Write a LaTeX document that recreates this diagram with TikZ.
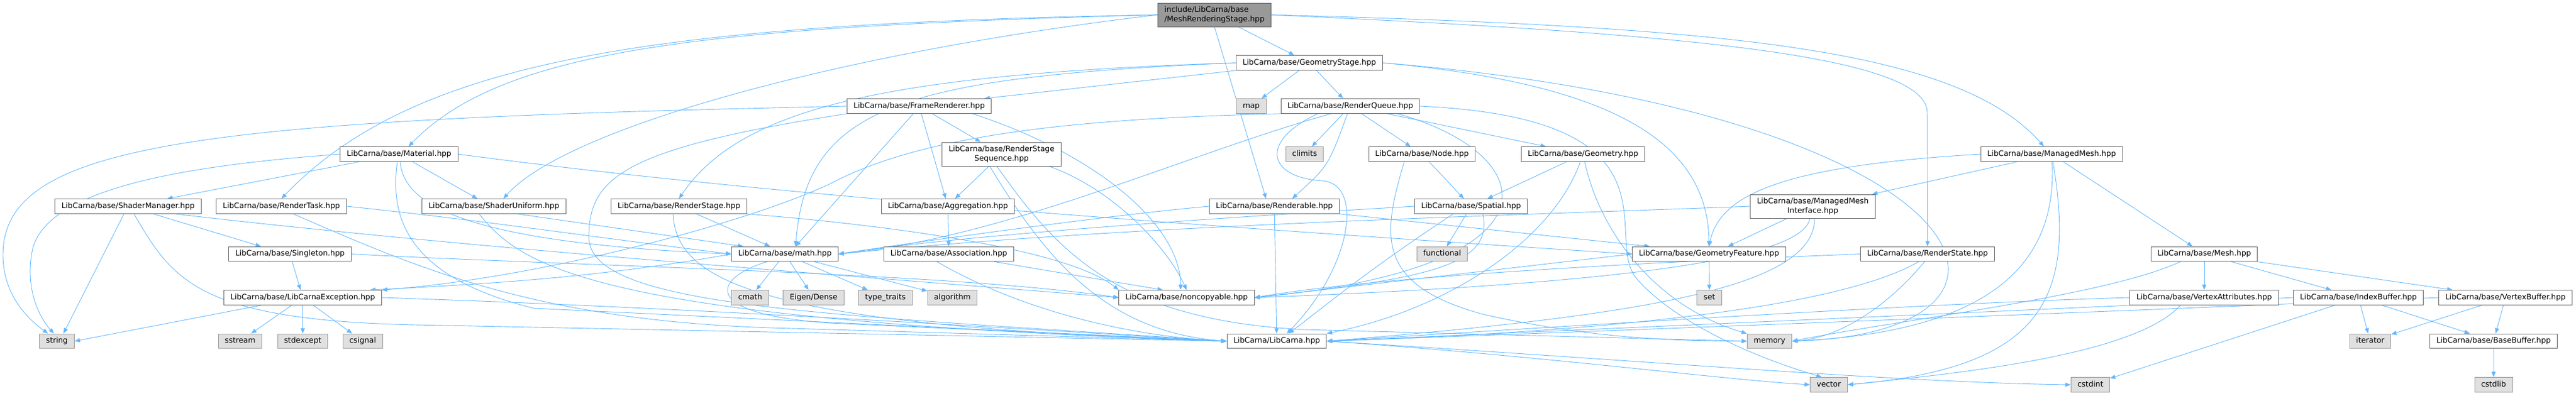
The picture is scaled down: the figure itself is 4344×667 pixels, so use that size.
\documentclass[tikz,border=0pt]{standalone}
\usepackage{fontspec}
\setmainfont{DejaVu Sans}
\usetikzlibrary{arrows.meta}

\definecolor{depblue}{HTML}{63B8FF}
\definecolor{boxline}{HTML}{666666}
\definecolor{sysline}{HTML}{999999}
\definecolor{sysfill}{HTML}{E0E0E0}
\definecolor{mainfill}{HTML}{999999}

\pgfdeclarelayer{background}
\pgfsetlayers{background,main}

\tikzset{
  box/.style={draw=boxline, fill=white, line width=1pt, inner xsep=11pt, inner ysep=6pt,
    font=\fontsize{12.8}{15.5}\selectfont},
  file/.style={box, text height=9.8pt, text depth=3pt},
  filetwo/.style={box, minimum height=40pt, align=center},
  sys/.style={file, draw=sysline, fill=sysfill},
  dep/.style={draw=depblue, line width=0.9pt, -{Triangle[length=9pt,width=7pt]}}
}

\begin{document}
\begin{tikzpicture}[x=1pt,y=-1pt]
\useasboundingbox (0,0) rectangle (4344,667);

% row 1 to 4
\node[filetwo, fill=mainfill, align=left] (top) at (2048,25) {include/LibCarna/base\\/MeshRenderingStage.hpp};
\node[file] (gstage) at (2208,106) {LibCarna/base/GeometryStage.hpp};
\node[file] (frame) at (1550,179) {LibCarna/base/FrameRenderer.hpp};
\node[sys] (stdmap) at (2110,179) {map};
\node[file] (rqueue) at (2277,179) {LibCarna/base/RenderQueue.hpp};
\node[file] (material) at (673,260) {LibCarna/base/Material.hpp};
\node[filetwo] (rsseq) at (1689,260) {LibCarna/base/RenderStage\\Sequence.hpp};
\node[sys] (stdclimits) at (2200,260) {climits};
\node[file] (nodeh) at (2398,260) {LibCarna/base/Node.hpp};
\node[file] (geometry) at (2669.5,260) {LibCarna/base/Geometry.hpp};
\node[file] (mmesh) at (3459.7,260) {LibCarna/base/ManagedMesh.hpp};

% row 5 and 6
\node[file] (shadermgr) at (216,348) {LibCarna/base/ShaderManager.hpp};
\node[file] (rtask) at (474.6,348) {LibCarna/base/RenderTask.hpp};
\node[file] (suniform) at (833,348) {LibCarna/base/ShaderUniform.hpp};
\node[file] (rstage) at (1145,348) {LibCarna/base/RenderStage.hpp};
\node[file] (aggregation) at (1598.5,348) {LibCarna/base/Aggregation.hpp};
\node[file] (renderable) at (2149,348) {LibCarna/base/Renderable.hpp};
\node[file] (spatial) at (2480.6,348) {LibCarna/base/Spatial.hpp};
\node[filetwo] (mmi) at (3057,348) {LibCarna/base/ManagedMesh\\Interface.hpp};
\node[file] (singleton) at (489,428.5) {LibCarna/base/Singleton.hpp};
\node[file] (math) at (1323.6,428.5) {LibCarna/base/math.hpp};
\node[file] (association) at (1600,428.5) {LibCarna/base/Association.hpp};
\node[sys] (stdfunctional) at (2432,428.5) {functional};
\node[file] (gfeature) at (2882,428.5) {LibCarna/base/GeometryFeature.hpp};
\node[file] (rstate) at (3250.5,428.5) {LibCarna/base/RenderState.hpp};
\node[file] (mesh) at (3717,428.5) {LibCarna/base/Mesh.hpp};

% row 7 to 9
\node[file] (exception) at (510.5,502) {LibCarna/base/LibCarnaException.hpp};
\node[sys] (stdcmath) at (1265,502) {cmath};
\node[sys] (eigen) at (1372,502) {Eigen/Dense};
\node[sys] (stdtypetraits) at (1493,502) {type\_traits};
\node[sys] (stdalgorithm) at (1606,502) {algorithm};
\node[file] (noncopyable) at (2001,502) {LibCarna/base/noncopyable.hpp};
\node[sys] (stdset) at (2882.6,502) {set};
\node[file] (vattr) at (3717,502) {LibCarna/base/VertexAttributes.hpp};
\node[file] (ibuffer) at (3977,502) {LibCarna/base/IndexBuffer.hpp};
\node[file] (vbuffer) at (4225,502) {LibCarna/base/VertexBuffer.hpp};
\node[sys] (stdstring) at (96,575.5) {string};
\node[sys] (stdsstream) at (405,575.5) {sstream};
\node[sys] (stdstdexcept) at (510.5,575.5) {stdexcept};
\node[sys] (stdcsignal) at (611.6,575.5) {csignal};
\node[file] (libcarna) at (2153,575.5) {LibCarna/LibCarna.hpp};
\node[sys] (stdmemory) at (2984,575.5) {memory};
\node[sys] (stditerator) at (3997,575.5) {iterator};
\node[file] (basebuffer) at (4205,575.5) {LibCarna/base/BaseBuffer.hpp};
\node[sys] (stdvector) at (3084,649) {vector};
\node[sys] (stdcstdint) at (3525,649) {cstdint};
\node[sys] (stdcstdlib) at (4205,649) {cstdlib};

\begin{pgfonlayer}{background}
% MeshRenderingStage.hpp
\draw[dep] (top) -- (gstage);
\draw[dep] (top.west) .. controls (1100,40) and (700,100) .. (rtask.north);
\draw[dep] (top.west) .. controls (1200,45) and (850,80) .. ([xshift=16pt]material.north);
\draw[dep] (top.west) .. controls (1400,90) and (950,220) .. ([xshift=16pt]suniform.north);
\draw[dep] (top.south) -- ([xshift=-14pt]renderable.north);
\draw[dep] (top.east) .. controls (2900,45) and (3300,80) .. ([xshift=-13pt]mmesh.north);
\draw[dep] (top.east) .. controls (2800,55) and (3250,90) .. (3250,190) -- (rstate.north);

% GeometryStage.hpp
\draw[dep] (gstage) -- (stdmap);
\draw[dep] (gstage) -- (rqueue);
\draw[dep] (gstage.south west) -- ([xshift=110pt]frame.north);
\draw[dep] (gstage.west) .. controls (1500,125) and (1250,180) .. (rstage.north);
\draw[dep] (gstage.west) .. controls (1520,130) and (1360,180) .. ([xshift=18pt]math.north);
\draw[dep] (gstage.east) .. controls (2700,140) and (2880,230) .. (gfeature.north);
\draw[dep] (gstage.east) .. controls (3350,190) and (3500,560) .. (stdmemory.east);

% FrameRenderer.hpp
\draw[dep] (frame.west) -- (1300,182) .. controls (300,205) and (5,250) .. (5,430) .. controls (5,500) and (50,540) .. ([xshift=-15pt]stdstring.north);
\draw[dep] (frame.south west) .. controls (1050,250) and (993,300) .. (993,400) .. controls (993,520) and (1400,530) .. (libcarna.west);
\draw[dep] ([xshift=-10pt]frame.south) -- ([xshift=18pt]math.north);
\draw[dep] (frame) -- (aggregation);
\draw[dep] (frame) -- (rsseq);
\draw[dep] ([xshift=90pt]frame.south) .. controls (1850,260) and (1990,380) .. ([xshift=-10pt]noncopyable.north);

% RenderQueue.hpp
\draw[dep] (rqueue) -- (stdclimits);
\draw[dep] (rqueue) -- (nodeh);
\draw[dep] (rqueue) -- (geometry);
\draw[dep] (rqueue) .. controls (2240,280) .. ([xshift=30pt]renderable.north);
\draw[dep] ([xshift=-33pt]rqueue.south) .. controls (2000,260) and (1700,400) .. (math.east);
\draw[dep] (rqueue.south west) .. controls (1800,200) and (1550,230) .. (1400,310) .. controls (1250,380) and (900,470) .. (exception.north east);
\draw[dep] ([xshift=-55pt]rqueue.south) .. controls (2120,240) and (2140,300) .. (2230,305) .. controls (2300,310) and (2280,450) .. ([xshift=17pt]libcarna.north);
\draw[dep] ([xshift=80pt]rqueue.south) .. controls (2600,260) and (2650,450) .. (noncopyable.east);
\draw[dep] (rqueue.east) .. controls (2850,200) and (2700,400) .. (2760,470) .. controls (2820,540) and (2950,600) .. ([xshift=-12pt]stdvector.north);

% Material.hpp
\draw[dep] (material.west) .. controls (300,280) and (80,320) .. (55,420) .. controls (40,490) and (70,540) .. ([xshift=-5pt]stdstring.north);
\draw[dep] (material) -- ([xshift=66pt]shadermgr.north);
\draw[dep] (material) -- ([xshift=-28pt]suniform.north);
\draw[dep] (material.east) .. controls (1300,330) and (2000,380) .. (gfeature.west);
\draw[dep] ([xshift=-3pt]material.south) .. controls (655,380) and (700,470) .. (900,520) -- (libcarna.west);
\draw[dep] ([xshift=2pt]material.south) .. controls (680,350) and (800,410) .. (math.west);

% RenderStageSequence.hpp
\draw[dep] (rsseq) -- ([xshift=12pt]aggregation.north);
\draw[dep] ([xshift=-20pt]rsseq.south) .. controls (1760,430) and (1860,560) .. (libcarna.west);
\draw[dep] ([xshift=-8pt]rsseq.south) .. controls (1780,420) and (1880,540) .. (2200,556) -- (stdmemory.west);
\draw[dep] ([xshift=80pt]rsseq.south) .. controls (1880,320) and (1970,420) .. (noncopyable.north);

% Aggregation.hpp, Association.hpp
\draw[dep] (aggregation) -- (association);
\draw[dep] (association) -- ([xshift=-40pt]noncopyable.north);
\draw[dep] ([xshift=-20pt]association.south) .. controls (1750,540) and (1950,570) .. (libcarna.west);

% Node.hpp, Geometry.hpp
\draw[dep] (nodeh) -- (spatial);
\draw[dep] ([xshift=-30pt]nodeh.south) .. controls (2330,400) and (2320,480) .. (2500,530) .. controls (2700,575) and (2850,575) .. (stdmemory.west);
\draw[dep] (geometry) -- (spatial);
\draw[dep] (geometry) .. controls (2620,400) and (2450,520) .. (libcarna.north east);
\draw[dep] (geometry) .. controls (2700,400) and (2800,520) .. (stdmemory.north west);

% ManagedMesh.hpp
\draw[dep] (mmesh.west) .. controls (3000,280) and (2900,330) .. (gfeature.north);
\draw[dep] (mmesh) -- ([xshift=100pt]mmi.north);
\draw[dep] (mmesh) -- (mesh);
\draw[dep] (mmesh) .. controls (3470,450) and (3350,560) .. (stdmemory.east);
\draw[dep] (mmesh) .. controls (3500,500) and (3450,620) .. (stdvector.east);

% ManagedMeshInterface.hpp
\draw[dep] (mmi.west) .. controls (2500,365) and (1900,380) .. (math.east);
\draw[dep] (mmi) -- ([xshift=32pt]gfeature.north);
\draw[dep] ([xshift=-5pt]mmi.south) .. controls (3040,440) and (2700,480) .. (noncopyable.east);
\draw[dep] ([xshift=3pt]mmi.south) .. controls (3060,480) and (2800,530) .. (libcarna.east);

% Mesh.hpp and buffers
\draw[dep] (mesh) -- (vattr);
\draw[dep] (mesh) -- (ibuffer);
\draw[dep] (mesh) -- (vbuffer);
\draw[dep] ([xshift=-40pt]mesh.south) .. controls (3550,500) and (3200,540) .. (stdmemory.east);
\draw[dep] (vattr.west) .. controls (3300,510) and (2800,540) .. (libcarna.east);
\draw[dep] ([xshift=-40pt]vattr.south) .. controls (3600,600) and (3300,630) .. (stdvector.east);
\draw[dep] (ibuffer.west) .. controls (3500,520) and (2800,550) .. (libcarna.east);
\draw[dep] (ibuffer) -- (stdcstdint);
\draw[dep] (ibuffer) -- (stditerator);
\draw[dep] (ibuffer) -- (basebuffer);
\draw[dep] (vbuffer.west) .. controls (3700,520) and (2800,555) .. (libcarna.east);
\draw[dep] (vbuffer) -- (stditerator);
\draw[dep] (vbuffer) -- (basebuffer);
\draw[dep] (basebuffer) -- (stdcstdlib);

% RenderState.hpp, GeometryFeature.hpp
\draw[dep] (rstate.west) .. controls (2700,445) and (2300,470) .. (noncopyable.east);
\draw[dep] ([xshift=-15pt]rstate.south) .. controls (3100,520) and (2700,560) .. (libcarna.east);
\draw[dep] ([xshift=-5pt]rstate.south) .. controls (3180,520) and (3100,570) .. (stdmemory.east);
\draw[dep] (gfeature) -- (stdset);
\draw[dep] (gfeature.west) -- (noncopyable.east);

% Spatial.hpp, Renderable.hpp
\draw[dep] ([xshift=-30pt]spatial.south) .. controls (2300,460) and (2230,520) .. ([xshift=20pt]libcarna.north);
\draw[dep] (spatial) -- (stdfunctional);
\draw[dep] ([xshift=20pt]spatial.south) .. controls (2520,450) and (2400,470) .. (noncopyable.east);
\draw[dep] (spatial.west) .. controls (2000,370) and (1600,400) .. (math.east);
\draw[dep] (renderable) -- (libcarna);
\draw[dep] (renderable.west) .. controls (1900,360) and (1600,400) .. (math.east);
\draw[dep] (renderable.south east) -- ([xshift=-100pt]gfeature.north);

% RenderTask.hpp, ShaderUniform.hpp, RenderStage.hpp
\draw[dep] (rtask.east) .. controls (800,370) and (1000,400) .. (math.west);
\draw[dep] ([xshift=20pt]rtask.south) .. controls (700,450) and (900,540) .. (1300,553) -- (libcarna.west);
\draw[dep] ([xshift=-25pt]suniform.south) .. controls (880,450) and (1000,540) .. (libcarna.west);
\draw[dep] ([xshift=40pt]suniform.south) -- ([xshift=-70pt]math.north);
\draw[dep] ([xshift=-10pt]rstage.south) .. controls (1140,480) and (1300,550) .. (libcarna.west);
\draw[dep] (rstage) -- ([xshift=-25pt]math.north);
\draw[dep] (rstage.south east) .. controls (1500,380) and (1800,420) .. (noncopyable.north west);

% Singleton.hpp, ShaderManager.hpp
\draw[dep] (singleton) -- (exception);
\draw[dep] (singleton.east) .. controls (1000,450) and (1600,460) .. (noncopyable.west);
\draw[dep] ([xshift=-7pt]shadermgr.south) -- ([xshift=11pt]stdstring.north);
\draw[dep] (shadermgr) -- ([xshift=-49pt]singleton.north);
\draw[dep] ([xshift=10pt]shadermgr.south) .. controls (290,470) and (330,540) .. (700,548) -- (libcarna.west);
\draw[dep] ([xshift=80pt]shadermgr.south) .. controls (800,420) and (1500,470) .. (noncopyable.west);

% LibCarnaException.hpp
\draw[dep] ([xshift=-70pt]exception.south) -- (stdstring.east);
\draw[dep] (exception) -- (stdsstream);
\draw[dep] (exception) -- (stdstdexcept);
\draw[dep] (exception) -- (stdcsignal);
\draw[dep] (exception.east) .. controls (1200,520) and (1800,560) .. (libcarna.west);

% math.hpp
\draw[dep] ([xshift=-30pt]math.south) .. controls (1200,470) and (1180,530) .. (1400,545) -- (libcarna.west);
\draw[dep] (math) -- (stdcmath);
\draw[dep] (math) -- (eigen);
\draw[dep] (math) -- (stdtypetraits);
\draw[dep] (math) -- (stdalgorithm);
\draw[dep] (math.west) .. controls (1000,470) and (800,480) .. ([xshift=-20pt]exception.north east);

% LibCarna.hpp
\draw[dep] (libcarna.east) .. controls (2600,600) and (2900,640) .. (stdvector.west);
\draw[dep] (libcarna.east) .. controls (2800,610) and (3200,645) .. (stdcstdint.west);
\end{pgfonlayer}
\end{tikzpicture}
\end{document}
